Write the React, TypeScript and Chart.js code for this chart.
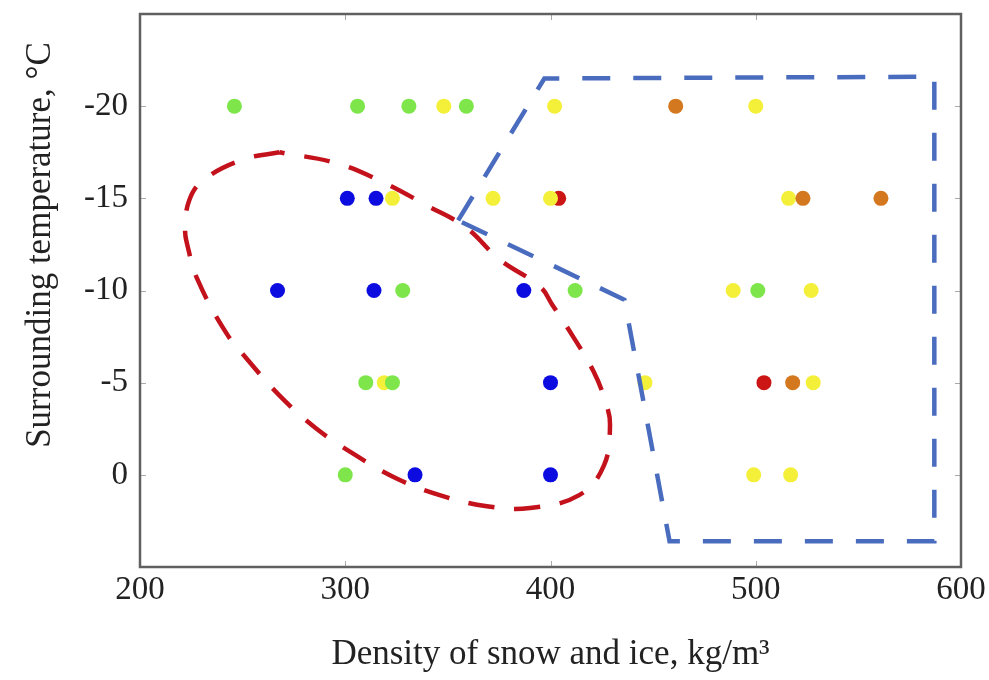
import React, { useEffect, useRef } from "react";
import { Chart, registerables } from "chart.js";

Chart.register(...registerables);

// Tick values
const xTicks = [200, 300, 400, 500, 600];
const yTicks = [-20, -15, -10, -5, 0];

// Measured points (density kg/m3, temperature °C)
const greenPts = [
  { x: 246, y: -20 }, { x: 306, y: -20 }, { x: 331, y: -20 }, { x: 359, y: -20 },
  { x: 328, y: -10 }, { x: 412, y: -10 }, { x: 501, y: -10 },
  { x: 310, y: -5 }, { x: 323, y: -5 },
  { x: 300, y: 0 },
];
const yellowPts = [
  { x: 348, y: -20 }, { x: 402, y: -20 }, { x: 500, y: -20 },
  { x: 323, y: -15 }, { x: 372, y: -15 }, { x: 400, y: -15 }, { x: 516, y: -15 },
  { x: 489, y: -10 }, { x: 527, y: -10 },
  { x: 319, y: -5 }, { x: 446, y: -5 }, { x: 528, y: -5 },
  { x: 499, y: 0 }, { x: 517, y: 0 },
];
const bluePts = [
  { x: 301, y: -15 }, { x: 315, y: -15 },
  { x: 267, y: -10 }, { x: 314, y: -10 }, { x: 387, y: -10 },
  { x: 400, y: -5 },
  { x: 334, y: 0 }, { x: 400, y: 0 },
];
const orangePts = [
  { x: 461, y: -20 }, { x: 523, y: -15 }, { x: 561, y: -15 }, { x: 518, y: -5 },
];
const redPts = [
  { x: 404, y: -15 }, { x: 504, y: -5 },
];

// Red dashed closed curve
const redCurve = [
  { x: 268, y: -17.5 }, { x: 250, y: -17.1 }, { x: 231, y: -16.0 }, { x: 224, y: -14.9 },
  { x: 222, y: -13.3 }, { x: 223, y: -12.5 }, { x: 228, y: -10.6 }, { x: 242, y: -7.7 },
  { x: 252, y: -6.3 }, { x: 268, y: -4.3 }, { x: 286, y: -2.5 }, { x: 306, y: -1.0 },
  { x: 325, y: 0.2 }, { x: 346, y: 1.1 }, { x: 369, y: 1.7 }, { x: 390, y: 1.8 },
  { x: 414, y: 1.1 }, { x: 426, y: -0.5 }, { x: 429, y: -2.7 }, { x: 427, y: -3.9 },
  { x: 421, y: -5.6 }, { x: 411, y: -7.5 }, { x: 401, y: -9.2 }, { x: 395, y: -10.2 },
  { x: 375, y: -11.7 }, { x: 359, y: -13.4 }, { x: 340, y: -14.6 }, { x: 318, y: -15.9 },
  { x: 296, y: -16.9 }, { x: 268, y: -17.5 },
];

// Blue dashed polygon
const bluePolygon = [
  { x: 355, y: -13.8 }, { x: 397, y: -21.5 }, { x: 587, y: -21.6 }, { x: 587, y: 3.6 },
  { x: 458, y: 3.6 }, { x: 436, y: -9.5 }, { x: 355, y: -13.8 },
];

const xTitle = "Density of snow and ice, kg/m³";
const yTitle = "Surrounding temperature, °C";

const FONT = "'Liberation Serif', 'Times New Roman', serif";

const framePlugin = {
  id: "frame",
  afterDraw(chart: any) {
    const { ctx, chartArea: a, scales } = chart;
    ctx.save();
    // inner tick marks
    ctx.strokeStyle = "#aaaaaa";
    ctx.lineWidth = 1;
    const tl = 6;
    xTicks.forEach((v) => {
      const px = Math.round(scales.x.getPixelForValue(v)) + 0.5;
      ctx.beginPath();
      ctx.moveTo(px, a.bottom); ctx.lineTo(px, a.bottom - tl);
      ctx.moveTo(px, a.top); ctx.lineTo(px, a.top + tl);
      ctx.stroke();
    });
    yTicks.forEach((v) => {
      const py = Math.round(scales.y.getPixelForValue(v)) + 0.5;
      ctx.beginPath();
      ctx.moveTo(a.left, py); ctx.lineTo(a.left + tl, py);
      ctx.moveTo(a.right, py); ctx.lineTo(a.right - tl, py);
      ctx.stroke();
    });
    // frame
    ctx.strokeStyle = "#606060";
    ctx.lineWidth = 2.5;
    ctx.strokeRect(a.left, a.top, a.right - a.left, a.bottom - a.top);
    // y title
    ctx.fillStyle = "#222222";
    ctx.font = "35px " + FONT;
    ctx.textAlign = "center";
    ctx.textBaseline = "middle";
    ctx.translate(41, 245);
    ctx.rotate(-Math.PI / 2);
    ctx.fillText(yTitle, 0, 0);
    ctx.restore();
  },
};

export default function App() {
  const ref = useRef<HTMLCanvasElement>(null);

  useEffect(() => {
    document.body.style.margin = "0";
    const pt = (data: any[], color: string, order: number) => ({
      data,
      backgroundColor: color,
      borderWidth: 0,
      pointRadius: 7.5,
      pointHoverRadius: 7.5,
      order,
    });
    const chart = new Chart(ref.current as HTMLCanvasElement, {
      type: "scatter",
      data: {
        datasets: [
          {
            data: redCurve,
            showLine: true,
            borderColor: "#c3121b",
            borderWidth: 4.5,
            borderDash: [26, 20],
            pointRadius: 0,
            tension: 0.4,
            fill: false,
            order: 0,
          } as any,
          {
            data: bluePolygon,
            showLine: true,
            borderColor: "#4a6cbf",
            borderWidth: 4.5,
            borderDash: [28, 23],
            pointRadius: 0,
            tension: 0,
            fill: false,
            order: 0,
          } as any,
          pt(bluePts, "#0c0ce0", 1),
          pt(orangePts, "#d4781f", 2),
          pt(greenPts, "#7ee64a", 3),
          pt(yellowPts, "#f4f03a", 4),
          pt(redPts, "#cc1616", 5),
        ],
      },
      options: {
        responsive: false,
        animation: false,
        layout: { padding: { top: 14, right: 28, left: 0, bottom: 0 } },
        plugins: { legend: { display: false }, tooltip: { enabled: false } },
        scales: {
          x: {
            type: "linear",
            min: 200,
            max: 600,
            afterBuildTicks: (s: any) => { s.ticks = xTicks.map((v) => ({ value: v })); },
            afterFit: (s: any) => { s.height = 113; s.paddingLeft = 0; s.paddingRight = 0; },
            grid: { display: false, drawTicks: false },
            border: { display: false },
            ticks: {
              padding: 4,
              color: "#222222",
              font: { family: FONT, size: 33 },
              maxRotation: 0,
            },
            title: {
              display: true,
              text: xTitle,
              color: "#222222",
              font: { family: FONT, size: 35 },
              padding: { top: 0, bottom: 4 },
            },
          },
          y: {
            type: "linear",
            min: -25,
            max: 5,
            reverse: true,
            afterBuildTicks: (s: any) => { s.ticks = yTicks.map((v) => ({ value: v })); },
            afterFit: (s: any) => { s.width = 140; s.paddingTop = 0; s.paddingBottom = 0; },
            grid: { display: false, drawTicks: false },
            border: { display: false },
            ticks: {
              padding: 12,
              color: "#222222",
              font: { family: FONT, size: 33 },
            },
            title: { display: false },
          },
        },
      },
      plugins: [framePlugin],
    });
    return () => chart.destroy();
  }, []);

  return <canvas ref={ref} width={989} height={680} style={{ display: "block" }} />;
}
